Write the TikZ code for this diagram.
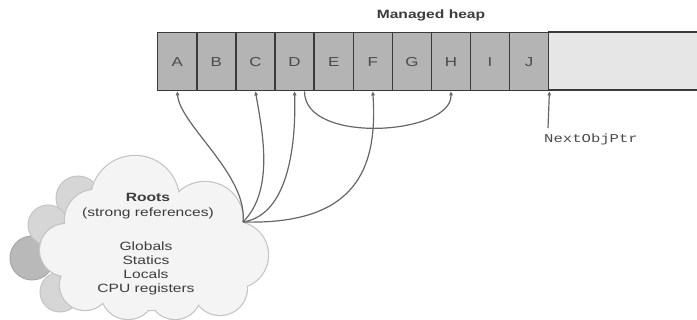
\documentclass[tikz,border=0pt]{standalone}
\usepackage{fontspec}
\setsansfont[FakeStretch=1.3]{Liberation Sans}
\setmonofont[FakeStretch=1.3]{Liberation Mono}
\usetikzlibrary{arrows.meta}
\definecolor{heapline}{HTML}{3A3A3A}
\definecolor{cellfill}{HTML}{B4B4B4}
\definecolor{emptyfill}{HTML}{E6E6E6}
\definecolor{celltext}{HTML}{4A4A4A}
\definecolor{linkc}{HTML}{666666}
\definecolor{txt}{HTML}{3C3C3C}
\definecolor{cloudfill}{HTML}{F4F4F4}
\definecolor{cloudline}{HTML}{C4C4C4}
\definecolor{backfill}{HTML}{D6D6D6}
\definecolor{shadowfill}{HTML}{B9B9B9}
\definecolor{shadowline}{HTML}{A8A8A8}
\begin{document}
\begin{tikzpicture}[x=1pt,y=-1pt,
  cell/.style={draw=heapline, fill=cellfill, line width=1.4pt, minimum width=39.1pt, minimum height=58pt, inner sep=0pt, font=\sffamily\fontsize{13}{13}\selectfont, text=celltext, anchor=north west},
  ref/.style={draw=linkc, line width=1.2pt, -{Triangle[length=4pt,width=3.5pt]}},
  lbl/.style={font=\sffamily\fontsize{12}{14}\selectfont, text=txt, inner sep=0pt, align=center}
  ]
\useasboundingbox (0,0) rectangle (697,320);
% heap
\fill[emptyfill] (548,32) rectangle (697,90);
\draw[heapline, line width=1.4pt] (548,32) -- (697,32) (548,90) -- (697,90);
\foreach \l [count=\i from 0] in {A,B,C,D,E,F,G,H,I,J}
  \node[cell] (\l) at (157+\i*39.1, 32) {\l};
\node[lbl, font=\sffamily\bfseries\fontsize{12}{14}\selectfont] (title) at (431,15) {Managed heap};
% cloud back layer
\filldraw[fill=shadowfill, draw=shadowline, line width=1pt] (32,258) circle[radius=22];
\foreach \cx/\cy/\r in {78/198/22, 48/225/20, 60/292/20}
  \filldraw[fill=backfill, draw=cloudline, line width=1pt] (\cx,\cy) circle[radius=\r];
% cloud
\foreach \cx/\cy/\r in {135/200/44, 95/220/30, 205/220/38, 235/255/33, 220/288/27, 175/293/26, 128/292/27, 85/285/25, 66/250/26, 150/250/60, 95/262/25}
  \draw[cloudline, line width=2.4pt] (\cx,\cy) circle[radius=\r];
\foreach \cx/\cy/\r in {135/200/44, 95/220/30, 205/220/38, 235/255/33, 220/288/27, 175/293/26, 128/292/27, 85/285/25, 66/250/26, 150/250/60, 95/262/25}
  \fill[cloudfill] (\cx,\cy) circle[radius=\r];
\node[lbl, font=\sffamily\bfseries\fontsize{12}{14}\selectfont] (roots) at (148,197) {Roots};
\node[lbl] (strong) at (148,213) {(strong references)};
\node[lbl] (list) at (146,268) {Globals\\Statics\\Locals\\CPU registers};
% pointer
\node[font=\ttfamily\fontsize{12}{14}\selectfont, text=celltext, inner sep=0pt, anchor=west] (nop) at (544,139) {NextObjPtr};
\coordinate (ptr) at (548,128);
\draw[ref] (ptr) -- (J.south east);
% references
\coordinate (hub) at (243,222);
\draw[ref] (hub) .. controls (248,175) and (180,125) .. (A.south);
\draw[ref] (hub) .. controls (275,190) and (262,130) .. (C.south);
\draw[ref] (hub) .. controls (290,215) and (296,140) .. (D.south);
\draw[ref] (hub) .. controls (355,225) and (378,170) .. (F.south);
\draw[ref] ([xshift=10pt]D.south) .. controls (304,145) and (452,135) .. (H.south);
\end{tikzpicture}
\end{document}
